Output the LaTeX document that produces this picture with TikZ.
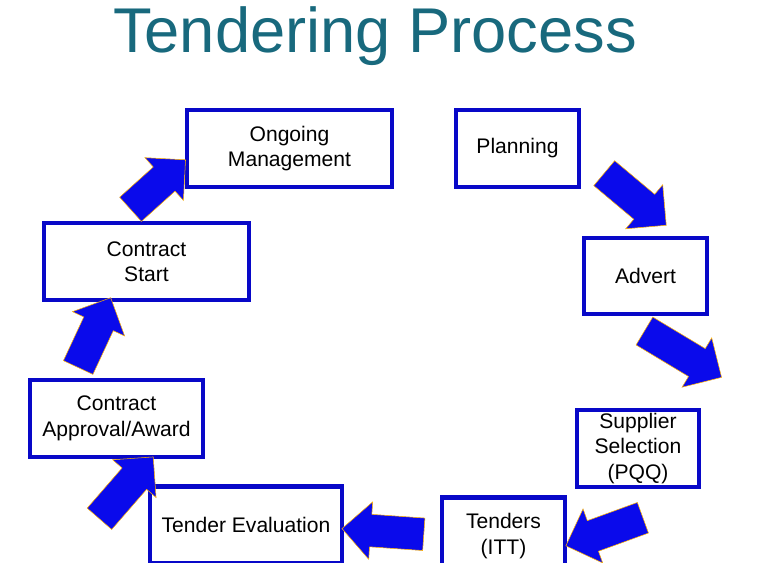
\documentclass[tikz,border=0pt]{standalone}
\usepackage{fontspec}
\setmainfont{Liberation Sans}
\usetikzlibrary{shapes.arrows}
\definecolor{boxblue}{RGB}{8,8,200}
\definecolor{titleteal}{RGB}{24,105,125}
\definecolor{arrowblue}{RGB}{10,10,235}
\begin{document}
\begin{tikzpicture}[x=0.02cm, y=-0.02cm]

\tikzset{stagebox/.style = {rectangle, draw=boxblue, line width=2.4pt, fill=white, align=center, font=\fontsize{12}{14.5}\selectfont, inner sep=0pt},
  flowarrow/.style = {single arrow, fill=arrowblue, draw=orange!60!yellow, line width=0.3pt, text height=0.32cm, text depth=0.32cm, text width=0pt, inner sep=0pt, single arrow head extend=0.25cm, single arrow tip angle=90}}

\useasboundingbox (0,0) rectangle (776,563);

\node[text=titleteal, font=\fontsize{36}{40}\selectfont] (title) at (375,36) {Tendering Process};

\node[stagebox, minimum width=4.1cm, minimum height=1.54cm] (o) at (289.5,148.5) {Ongoing\\Management};
\node[stagebox, minimum width=2.46cm, minimum height=1.54cm] (p) at (517.5,148.5) {Planning};
\node[stagebox, minimum width=2.46cm, minimum height=1.52cm] (a) at (645.5,276) {Advert};
\node[stagebox, minimum width=2.44cm, minimum height=1.54cm] (s) at (638,448.5) {Supplier\\Selection\\(PQQ)};
\node[stagebox, minimum width=2.46cm, minimum height=1.54cm] (t) at (503.5,536) {Tenders\\(ITT)};
\node[stagebox, minimum width=3.84cm, minimum height=1.54cm] (e) at (246,525) {Tender Evaluation};
\node[stagebox, minimum width=3.46cm, minimum height=1.54cm] (ap) at (116.5,418.5) {Contract\\Approval/Award};
\node[stagebox, minimum width=4.1cm, minimum height=1.54cm] (st) at (146.5,261.5) {Contract\\Start};

\node[flowarrow, rotate=-40, minimum height=1.62cm] (pa) at (629,194) {};
\node[flowarrow, rotate=-31, minimum height=1.8cm] (as) at (676,350) {};
\node[flowarrow, rotate=200, minimum height=1.64cm] (ss) at (612,529) {};
\node[flowarrow, rotate=176, minimum height=1.64cm] (te) at (391,532) {};
\node[flowarrow, rotate=49, minimum height=1.64cm] (ea) at (121,494) {};
\node[flowarrow, rotate=65, minimum height=1.54cm] (as2) at (91,340) {};
\node[flowarrow, rotate=42, minimum height=1.48cm] (so) at (152,190) {};

\end{tikzpicture}
\end{document}
